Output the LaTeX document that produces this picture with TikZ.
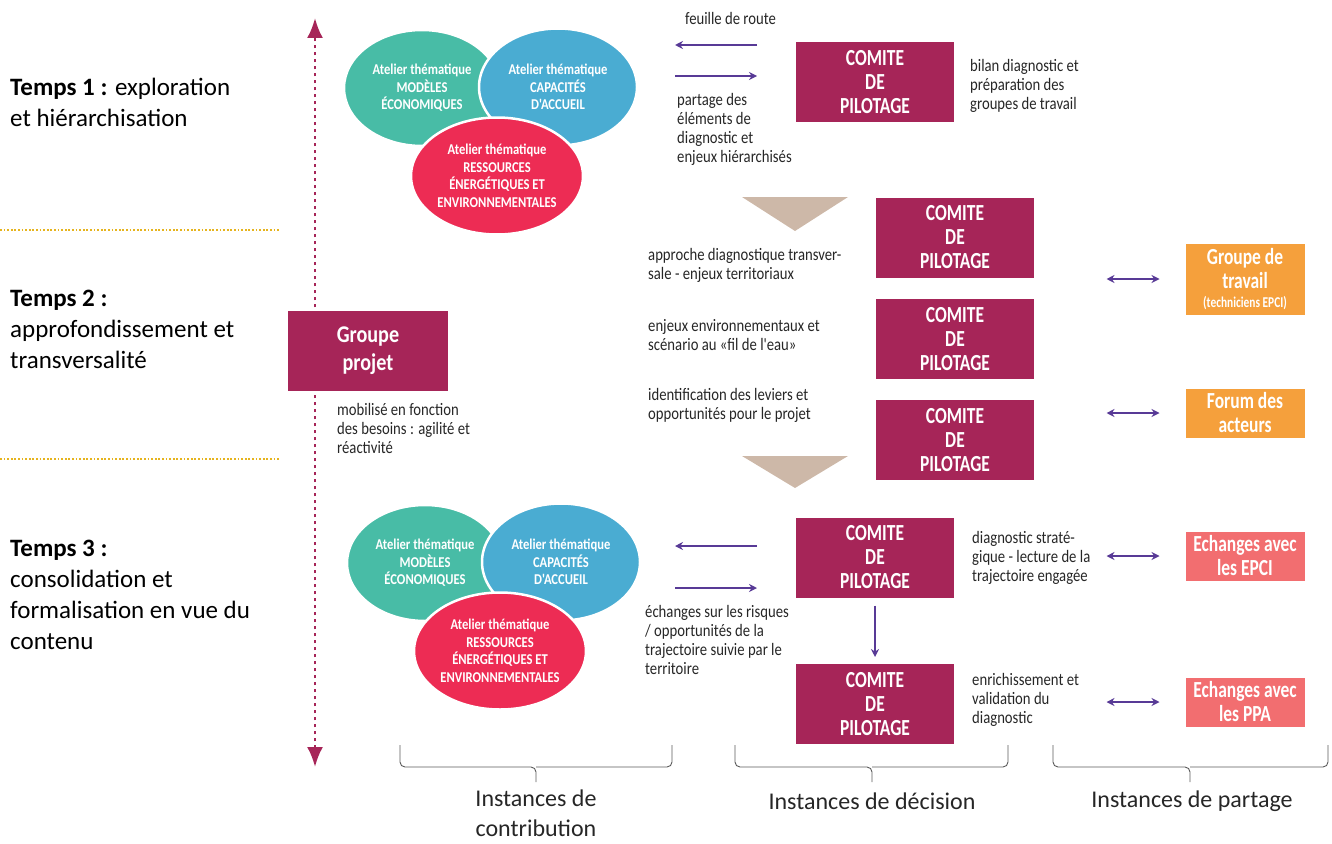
\documentclass[tikz,border=0pt]{standalone}
\usepackage{fontspec}
\setmainfont{Carlito}
\newfontfamily\condfont[FakeStretch=0.84]{Carlito}
\newfontfamily\narrowfont[FakeStretch=0.76]{Carlito}
\usetikzlibrary{arrows.meta,shapes.geometric}
\definecolor{pilotage}{RGB}{166,37,88}
\definecolor{atelierteal}{RGB}{72,188,166}
\definecolor{atelierblue}{RGB}{74,172,210}
\definecolor{atelierred}{RGB}{237,44,84}
\definecolor{partageorange}{RGB}{245,160,60}
\definecolor{partagepink}{RGB}{242,110,112}
\definecolor{flowpurple}{RGB}{88,58,150}
\definecolor{stagetan}{RGB}{205,184,168}
\definecolor{tempsgold}{RGB}{230,180,30}
\definecolor{bracegray}{RGB}{90,90,90}
\tikzset{
  comite/.style={fill=pilotage, draw=white, line width=2pt, minimum width=160pt,
    minimum height=82pt, inner sep=0pt, align=center, text=white,
    font=\narrowfont\bfseries\fontsize{23}{24}\selectfont},
  partage/.style={draw=white, line width=1pt, minimum width=120pt, inner sep=0pt,
    align=center, text=white, font=\narrowfont\bfseries\fontsize{23}{24}\selectfont},
  atelier/.style={ellipse, draw=white, line width=2.5pt, inner sep=0pt, align=center,
    text=white, font=\condfont\bfseries\fontsize{15}{17.5}\selectfont},
  note/.style={anchor=north west, inner sep=0pt, align=left, text=black!85,
    font=\condfont\fontsize{17.5}{19}\selectfont},
  temps/.style={anchor=north west, inner sep=0pt, align=left, text=black,
    font=\fontsize{25}{31}\selectfont},
  instance/.style={inner sep=0pt, align=center, text=black!85,
    font=\fontsize{24}{30}\selectfont},
  flow/.style={draw=flowpurple, line width=1.6pt, -{Stealth[length=8pt,width=8pt]}},
  exchange/.style={flow, {Stealth[length=8pt,width=8pt]}-{Stealth[length=8pt,width=8pt]}},
  timeline/.style={draw=pilotage, line width=2.6pt, dash pattern=on 3pt off 4pt,
    {Latex[length=20pt,width=16pt]}-{Latex[length=20pt,width=16pt]}},
  separator/.style={draw=tempsgold, line width=1.8pt, dash pattern=on 1.8pt off 1.8pt},
  accolade/.style={draw=bracegray, line width=0.9pt, rounded corners=5pt},
}
\newcommand*{\ComiteBox}[3]{% #1 = name, #2/#3 = centre
\node [comite] (#1) at (#2,#3) {COMITE\\DE\\PILOTAGE};
}
\newcommand*{\AtelierTrio}[3]{% #1 = prefix, #2/#3 = shift
\begin{scope}[shift={(#2,#3)}]
\node [atelier, fill=atelierteal, minimum width=156pt, minimum height=116pt]
  (#1eco) at (422,88) {Atelier thématique\\MODÈLES\\ÉCONOMIQUES};
\node [atelier, fill=atelierblue, minimum width=158pt, minimum height=117pt]
  (#1acc) at (558,87) {Atelier thématique\\CAPACITÉS\\D'ACCUEIL};
\node [atelier, fill=atelierred, minimum width=172pt, minimum height=117pt]
  (#1res) at (497,176) {Atelier thématique\\RESSOURCES\\ÉNERGÉTIQUES ET\\ENVIRONNEMENTALES};
\end{scope}
}
\begin{document}
\begin{tikzpicture}[x=1pt,y=-1pt]
\useasboundingbox (0,0) rectangle (1332,843);

% temps
\draw[separator] (0,230) -- (280,230);
\draw[separator] (0,459) -- (280,459);
\node[temps] (temps1) at (10,78) {\textbf{Temps 1 :} exploration\\et hiérarchisation};
\node[temps] (temps2) at (10,290) {\textbf{Temps 2 :}\\approfondissement et\\transversalité};
\node[temps] (temps3) at (10,540) {\textbf{Temps 3 :}\\consolidation et\\formalisation en vue du\\contenu};

\coordinate (debut) at (315,18);
\coordinate (fin) at (315,767);
\draw[timeline] (fin) -- (debut);
\node[fill=pilotage, draw=white, line width=2pt, minimum width=162pt, minimum height=82pt,
  inner sep=0pt, align=center, text=white, font=\condfont\bfseries\fontsize{24}{28}\selectfont]
  (projet) at (368,351) {Groupe\\projet};
\node[note] (mobilise) at (337,403) {mobilisé en fonction\\des besoins : agilité et\\réactivité};

% ateliers
\AtelierTrio{haut}{0}{0}
\AtelierTrio{bas}{3}{475}

% decision
\ComiteBox{c1}{875}{82}
\ComiteBox{c2}{955}{237.5}
\ComiteBox{c3}{955}{339}
\ComiteBox{c4}{955}{440}
\ComiteBox{c5}{875}{557.5}
\ComiteBox{c6}{875}{704}

\fill[stagetan] (742,197) -- (848,197) -- (795,231) -- cycle;
\fill[stagetan] (742,456) -- (848,456) -- (795,488) -- cycle;

\coordinate (hautout) at (757,45);
\coordinate (hautin) at (675,45);
\coordinate (hautgo) at (675,76);
\coordinate (hautto) at (757,76);
\draw[flow] (hautout) -- (hautin);
\draw[flow] (hautgo) -- (hautto);
\coordinate (basout) at (757,546);
\coordinate (basin) at (675,546);
\coordinate (basgo) at (675,588);
\coordinate (basto) at (757,588);
\draw[flow] (basout) -- (basin);
\draw[flow] (basgo) -- (basto);
\draw[flow, shorten <=6pt, shorten >=5pt] (c5.south) -- (c6.north);

\node[note] (feuille) at (685,12) {feuille de route};
\node[note] (elements) at (677,93) {partage des\\éléments de\\diagnostic et\\enjeux hiérarchisés};
\node[note] (bilan) at (970,59) {bilan diagnostic et\\préparation des\\groupes de travail};
\node[note] (approche) at (648,248) {approche diagnostique transver-\\sale - enjeux territoriaux};
\node[note] (enjeux) at (648,319) {enjeux environnementaux et\\scénario au «fil de l'eau»};
\node[note] (leviers) at (648,388) {identification des leviers et\\opportunités pour le projet};
\node[note] (strategie) at (972,531) {diagnostic straté-\\gique - lecture de la\\trajectoire engagée};
\node[note] (validation) at (972,673) {enrichissement et\\validation du\\diagnostic};
\node[note] (risques) at (645,605) {échanges sur les risques\\/ opportunités de la\\trajectoire suivie par le\\territoire};

% partage
\node[partage, fill=partageorange, minimum height=72pt] (travail) at (1245,279)
  {Groupe de\\travail\\[-5pt]{\fontsize{15}{16}\selectfont(techniciens EPCI)}};
\node[partage, fill=partageorange, minimum height=50pt] (forum) at (1245,413) {Forum des\\acteurs};
\node[partage, fill=partagepink, minimum height=50pt] (epci) at (1245,556) {Echanges avec\\les EPCI};
\node[partage, fill=partagepink, minimum height=50pt] (ppa) at (1245,702) {Echanges avec\\les PPA};
\draw[exchange] ([xshift=-78pt]travail.west) -- ([xshift=-25pt]travail.west);
\draw[exchange] ([xshift=-78pt]forum.west) -- ([xshift=-25pt]forum.west);
\draw[exchange] ([xshift=-78pt]epci.west) -- ([xshift=-25pt]epci.west);
\draw[exchange] ([xshift=-78pt]ppa.west) -- ([xshift=-25pt]ppa.west);

% instances
\draw[accolade] (400,745) |- (536,767) -- (536,782);
\draw[accolade] (672,745) |- (536,767);
\draw[accolade] (735,745) |- (872,767) -- (872,782);
\draw[accolade] (1008,745) |- (872,767);
\draw[accolade] (1053,745) |- (1190,767) -- (1190,782);
\draw[accolade] (1328,745) |- (1190,767);
\node[instance] (contribution) at (536,813) {Instances de\\contribution};
\node[instance] (decision) at (872,801) {Instances de décision};
\node[instance] (partage) at (1192,801) {Instances de partage};
\end{tikzpicture}
\end{document}
